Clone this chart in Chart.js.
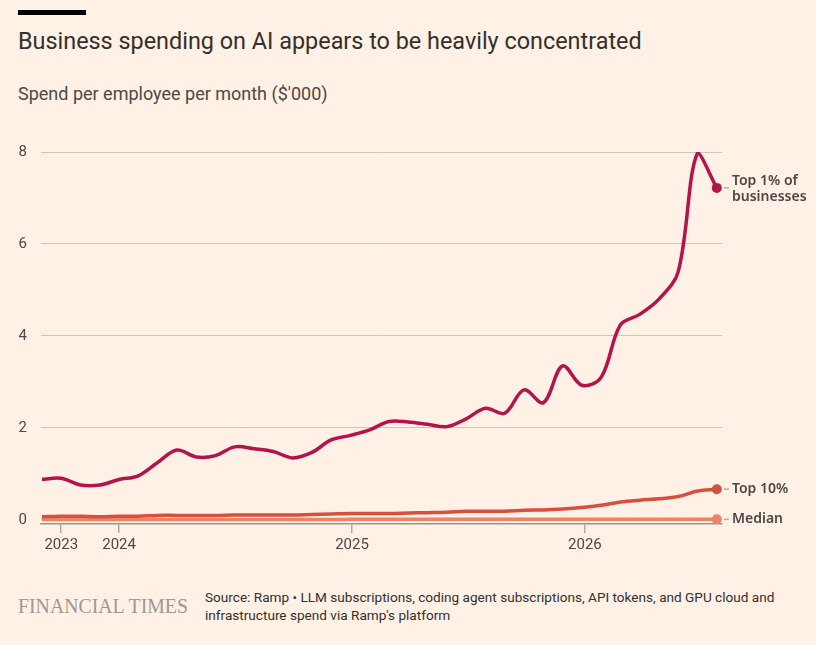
<!DOCTYPE html>
<html>
<head>
<meta charset="utf-8">
<script src="https://cdn.jsdelivr.net/npm/chart.js@4.4.1/dist/chart.umd.min.js"></script>
<style>
  html, body { margin: 0; padding: 0; }
  body { width: 816px; height: 645px; background: #fff1e5; position: relative; overflow: hidden; font-family: Roboto, sans-serif; }
  .bar { position: absolute; left: 18px; top: 10px; width: 68px; height: 5px; background: #000; }
  .title { position: absolute; left: 18px; top: 27px; font-size: 23.4px; color: #33302e; white-space: nowrap; }
  .subtitle { position: absolute; left: 18px; top: 83px; font-size: 18px; color: #4d4845; white-space: nowrap; }
  .chart-box { position: absolute; left: 0; top: 120px; width: 816px; height: 450px; }
  .logo { position: absolute; left: 18px; top: 593px; font-family: "Liberation Serif", "DejaVu Serif", serif; font-size: 22px; color: #a09891; white-space: nowrap; transform: scaleX(0.9); transform-origin: left top; }
  .source { position: absolute; left: 205px; top: 588px; font-size: 13.6px; line-height: 18px; color: #33302e; width: 600px; }
</style>
</head>
<body>
<div class="bar"></div>
<div class="title">Business spending on AI appears to be heavily concentrated</div>
<div class="subtitle">Spend per employee per month ($'000)</div>
<div class="chart-box"><canvas id="chart"></canvas></div>
<div class="logo">FINANCIAL TIMES</div>
<div class="source">Source: Ramp &bull; LLM subscriptions, coding agent subscriptions, API tokens, and GPU cloud and infrastructure spend via Ramp's platform</div>
<script>
  "use strict";

  // 月次データ (Sep 2023 = 0 ... Aug 2026 = 35)
  var MONTH_INDEX = [0, 1, 2, 3, 4, 5, 6, 7, 8, 9, 10, 11, 12, 13, 14, 15, 16, 17,
    18, 19, 20, 21, 22, 23, 24, 25, 26, 27, 28, 29, 30, 31, 32, 33, 34, 35];

  var TOP1 = [0.885, 0.906, 0.76, 0.76, 0.88, 0.96, 1.25, 1.52, 1.37, 1.40, 1.59, 1.55,
    1.49, 1.35, 1.47, 1.74, 1.84, 1.96, 2.14, 2.13, 2.08, 2.03, 2.20, 2.43,
    2.32, 2.83, 2.55, 3.35, 2.93, 3.10, 4.24, 4.47, 4.80, 5.40, 7.98, 7.22];

  var TOP10 = [0.07, 0.08, 0.08, 0.07, 0.08, 0.08, 0.10, 0.10, 0.10, 0.10, 0.11, 0.11,
    0.11, 0.11, 0.12, 0.13, 0.14, 0.14, 0.14, 0.15, 0.16, 0.17, 0.19, 0.19,
    0.19, 0.21, 0.22, 0.24, 0.27, 0.32, 0.39, 0.43, 0.46, 0.51, 0.63, 0.67];

  var MEDIAN = [0.01, 0.01, 0.01, 0.01, 0.01, 0.01, 0.01, 0.01, 0.01, 0.01, 0.01, 0.01,
    0.01, 0.01, 0.01, 0.01, 0.015, 0.015, 0.015, 0.015, 0.015, 0.015, 0.015, 0.015,
    0.015, 0.015, 0.015, 0.015, 0.015, 0.015, 0.015, 0.015, 0.015, 0.015, 0.015, 0.015];

  var X_TICK_POS = [1, 4, 16.08, 28.16];
  var X_TICK_LABELS = ['2023', '2024', '2025', '2026'];
  var Y_TICKS = [0, 2, 4, 6, 8];

  var SERIES_LABELS = [['Top 1% of', 'businesses'], ['Top 10%'], ['Median']];
  var SERIES_COLORS = ['#b5134b', '#d6503f', '#ec8266'];

  function toPoints(values) {
    return values.map(function(v, i) { return { x: MONTH_INDEX[i], y: v }; });
  }

  function endDot(ctx) {
    return ctx.dataIndex === MONTH_INDEX.length - 1 ? 5 : 0;
  }

  function makeDataset(values, idx, order) {
    return {
      data: toPoints(values),
      borderColor: SERIES_COLORS[idx],
      backgroundColor: SERIES_COLORS[idx],
      borderWidth: 3.5,
      tension: 0.35,
      pointRadius: endDot,
      pointHoverRadius: endDot,
      pointBorderWidth: 0,
      order: order,
      labelIndex: idx
    };
  }

  // 右端ラベル
  var endLabels = {
    id: 'endLabels',
    afterDatasetsDraw: function(chart) {
      var c = chart.ctx;
      var right = chart.chartArea.right;
      c.save();
      chart.data.datasets.forEach(function(ds, i) {
        var meta = chart.getDatasetMeta(i);
        var pt = meta.data[meta.data.length - 1];
        if (!pt) return;
        var y = pt.y;
        c.strokeStyle = '#b3aba4';
        c.lineWidth = 1.5;
        c.beginPath();
        c.moveTo(right + 2, y);
        c.lineTo(right + 7, y);
        c.stroke();
        var lines = SERIES_LABELS[ds.labelIndex];
        c.fillStyle = '#4d4845';
        c.font = '600 14px "Noto Sans", sans-serif';
        c.textBaseline = 'middle';
        c.textAlign = 'left';
        var start = y - (lines.length - 1) * 8 + (lines.length > 1 ? 1 : 0);
        lines.forEach(function(t, k) {
          c.fillText(t, right + 10, start + k * 16);
        });
      });
      c.restore();
    }
  };

  new Chart(document.getElementById('chart'), {
    type: 'line',
    data: {
      datasets: [
        makeDataset(TOP1, 0, 1),
        makeDataset(TOP10, 1, 2),
        makeDataset(MEDIAN, 2, 3)
      ]
    },
    options: {
      responsive: true,
      maintainAspectRatio: false,
      animation: false,
      layout: { padding: { top: 32, right: 94, left: 0, bottom: 0 } },
      plugins: { legend: { display: false }, tooltip: { enabled: false } },
      scales: {
        x: {
          type: 'linear',
          min: -0.05,
          max: 35.27,
          afterBuildTicks: function(scale) {
            scale.ticks = X_TICK_POS.map(function(v) { return { value: v }; });
          },
          afterFit: function(scale) { scale.height = 46; },
          ticks: {
            autoSkip: false,
            maxRotation: 0,
            padding: 3,
            color: '#4d4845',
            font: { family: 'Roboto', size: 15 },
            callback: function(v, i) { return X_TICK_LABELS[i]; }
          },
          grid: { drawOnChartArea: false, drawTicks: true, tickLength: 9, color: '#b3aba4', lineWidth: 1.5 },
          border: { display: true, color: '#9e9690', width: 1.5 }
        },
        y: {
          min: -0.087,
          max: 8,
          afterBuildTicks: function(scale) {
            scale.ticks = Y_TICKS.map(function(v) { return { value: v }; });
          },
          afterFit: function(scale) { scale.width = 41; },
          ticks: {
            padding: 14,
            color: '#4d4845',
            font: { family: 'Roboto', size: 15 }
          },
          grid: { drawTicks: false, color: '#cfc4ba', lineWidth: 1 },
          border: { display: false }
        }
      }
    },
    plugins: [endLabels]
  });
</script>
</body>
</html>
